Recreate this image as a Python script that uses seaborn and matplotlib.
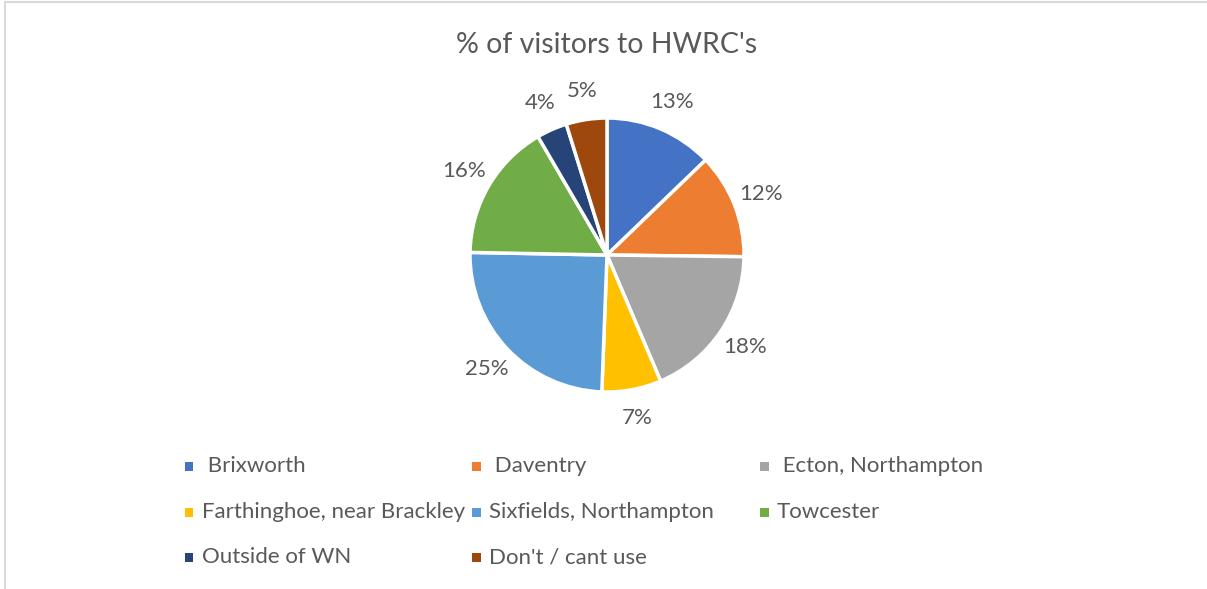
import matplotlib
matplotlib.use("Agg")
import matplotlib.pyplot as plt
import seaborn as sns
from matplotlib.patches import Rectangle

categories = [" Brixworth", " Daventry", " Ecton, Northampton",
              "Farthinghoe, near Brackley", "Sixfields, Northampton", "Towcester",
              "Outside of WN", "Don't / cant use"]
values = [12.8, 12.4, 18.4, 7.0, 24.7, 16.3, 3.6, 4.8]
colors = ["#4472C4", "#ED7D31", "#A5A5A5", "#FFC000", "#5B9BD5", "#70AD47", "#264478", "#9E480E"]
title = "% of visitors to HWRC's"

sns.set_theme(style="white")
plt.rcParams['font.family'] = ['Lato', 'DejaVu Sans']
TXT = "#595959"

W, H = 1207, 589
fig = plt.figure(figsize=(W / 100, H / 100), dpi=100)
fig.patch.set_facecolor("white")

# outer chart border
fig.patches.append(Rectangle((5 / W, -0.1), 1.2, (H - 1.5) / H + 0.1, transform=fig.transFigure,
                             fill=False, edgecolor="#D9D9D9", linewidth=1.5))

cx, cy, r = 607, 255, 137
ax = fig.add_axes([(cx - r) / W, (H - cy - r) / H, 2 * r / W, 2 * r / H])
pal = sns.color_palette(colors)
wedges, texts = ax.pie(values, colors=pal, startangle=90, counterclock=False,
                       labels=[f"{round(v):.0f}%" for v in values], labeldistance=1.21,
                       wedgeprops=dict(edgecolor="white", linewidth=2.5),
                       textprops=dict(color=TXT, fontsize=16))
for t in texts:
    t.set_ha("center")
    t.set_va("center")
ax.set_xlim(-1, 1)
ax.set_ylim(-1, 1)
ax.axis("off")

fig.text(cx / W, 1 - 45 / H, title, ha="center", va="center", fontsize=20.5, color=TXT)

# legend (row-wise, 3 columns)
col_x = [189, 476, 764]
row_y = [466, 512, 557]
for i, (lab, col) in enumerate(zip(categories, pal)):
    rr, cc = divmod(i, 3)
    mx, my = col_x[cc], row_y[rr]
    fig.patches.append(Rectangle(((mx - 4.5) / W, (H - my - 4.5) / H), 9 / W, 9 / H,
                                 transform=fig.transFigure, facecolor=col, edgecolor="none"))
    fig.text((mx + 13) / W, 1 - my / H, lab, ha="left", va="center", fontsize=16, color=TXT)

fig.savefig("out.png", dpi=100)
